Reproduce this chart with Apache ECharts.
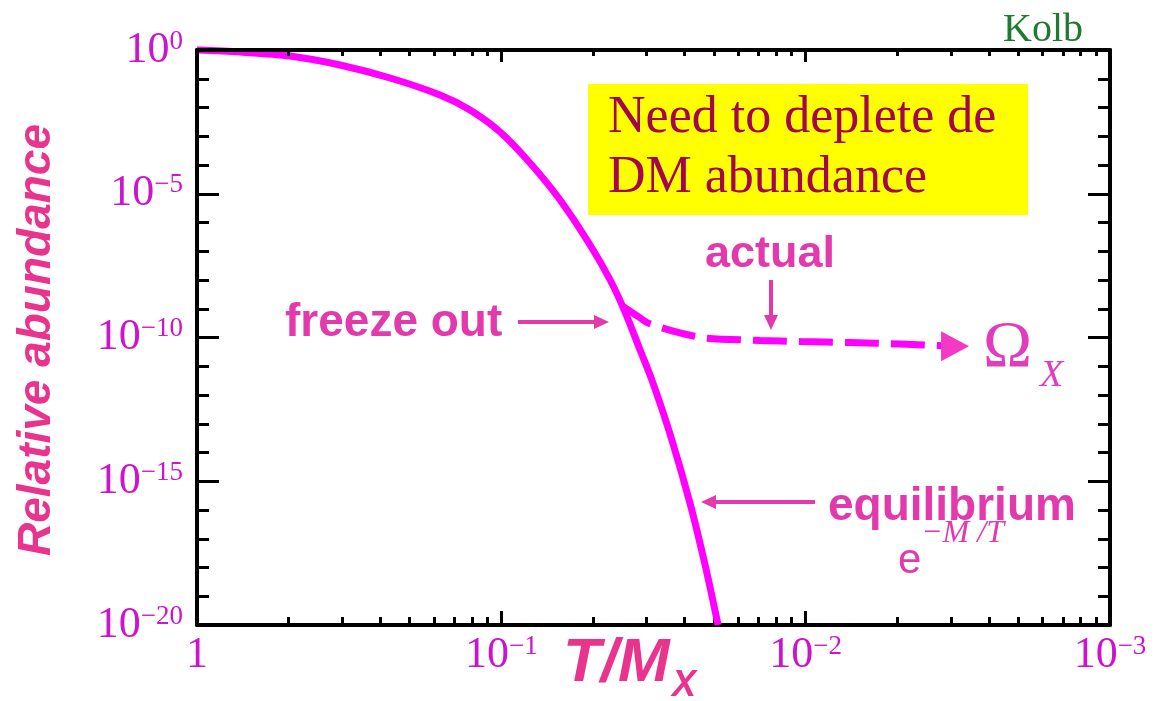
<!DOCTYPE html>
<html><head><meta charset="utf-8">
<script src="https://cdn.jsdelivr.net/npm/echarts@6/dist/echarts.min.js"></script>
<style>
html,body{margin:0;padding:0;background:#fff}
#wrap{position:relative;width:1157px;height:701px}
#c,#o{position:absolute;left:0;top:0;width:1157px;height:701px}
#o{pointer-events:none}
</style>
</head><body><div id="wrap"><div id="c"></div><div id="o"></div></div>
<script>
// ---- data (T/M_X and relative abundance) ----
const equilibriumTM = [1, 0.722, 0.495, 0.339, 0.232, 0.159, 0.1267, 0.101, 0.0805, 0.0641, 0.0511, 0.0439, 0.0392, 0.0350, 0.0320, 0.0279, 0.0240, 0.0214, 0.0194];
const equilibriumAbundance = [1, 0.852, 0.618, 0.301, 0.106, 0.0272, 8.18e-3, 1.41e-3, 1.17e-4, 6.06e-6, 1.65e-7, 1.0e-8, 7.7e-10, 3.67e-11, 3.3e-12, 4.4e-14, 1.75e-16, 1.22e-18, 1e-20];
const actualTM = [0.0401, 0.035, 0.033, 0.0259, 0.0211, 0.0141, 0.0104, 0.00714, 0.0049, 0.00323];
const actualAbundance = [1.26e-9, 4.8e-10, 3.2e-10, 1.44e-10, 9.5e-11, 7.9e-11, 7.2e-11, 6.7e-11, 5.9e-11, 5.0e-11];
// tick label exponents
const xDecades = [0, 1, 2, 3];          // T/M = 10^-k
const yExponents = [0, -5, -10, -15, -20];

// ---- build ----
const labelColor = '#cc14cc';
const annot = '#e23aad';
const curve = '#ff00ff';
const toPt = (t, a) => [-Math.log10(t), Math.log10(a)];
const eqData = equilibriumTM.map((t, i) => toPt(t, equilibriumAbundance[i]));
const actData = actualTM.map((t, i) => toPt(t, actualAbundance[i]));
const last = actData.pop();
actData.push({value: last, symbol: 'triangle', symbolSize: [30, 28], symbolRotate: -90, itemStyle: {color: '#f23ac4'}});

const xMinor = [];
for (let k = 0; k < 3; k++) for (let n = 2; n <= 9; n++) xMinor.push(k + Math.log10(n));

const blk = {color: '#000', width: 4};
const tk = {color: '#000', width: 3};
const xBase = {type: 'value', min: 0, max: 3, interval: 1, splitLine: {show: false}};
const yBase = {type: 'value', min: -20, max: 0, interval: 5, splitLine: {show: false}};
const gridPos = {left: 197, right: 47, top: 50, bottom: 76};

// main chart: bottom/left axes with labels and the two curves
const chart = echarts.init(document.getElementById('c'), null, {renderer: 'canvas'});
chart.setOption({
  animation: false,
  grid: gridPos,
  xAxis: [
    Object.assign({}, xBase, {position: 'bottom', axisLine: {onZero: false, lineStyle: blk},
      axisTick: {inside: true, length: 14, lineStyle: tk},
      axisLabel: {margin: 8, fontFamily: 'serif', fontSize: 44, color: labelColor, customValues: xDecades,
        rich: {n: {fontFamily: 'serif', fontSize: 44, color: labelColor}, s: {fontFamily: 'serif', fontSize: 27, color: labelColor, verticalAlign: 'top'}},
        formatter: v => v === 0 ? '{n|1}' : '{n|10}{s|\u2212' + Math.round(v) + '}'}}),
    Object.assign({}, xBase, {position: 'bottom', axisLine: {show: false, onZero: false},
      axisTick: {inside: true, length: 8, lineStyle: tk, customValues: xMinor}, axisLabel: {show: false}})
  ],
  yAxis: [
    Object.assign({}, yBase, {position: 'left', axisLine: {show: true, onZero: false, lineStyle: blk},
      axisTick: {inside: true, length: 22, lineStyle: tk},
      minorTick: {show: true, splitNumber: 5, length: 12, lineStyle: tk},
      axisLabel: {margin: 14, fontFamily: 'serif', fontSize: 44, color: labelColor,
        rich: {n: {fontFamily: 'serif', fontSize: 44}, s: {fontFamily: 'serif', fontSize: 27, verticalAlign: 'top'}},
        formatter: v => v === 0 ? '{n|10}{s|0}' : '{n|10}{s|\u2212' + Math.round(-v) + '}'}})
  ],
  series: [
    {type: 'line', xAxisIndex: 0, yAxisIndex: 0, data: eqData, smooth: 0.3, symbol: 'none', clip: false,
      lineStyle: {color: curve, width: 7}},
    {type: 'line', xAxisIndex: 0, yAxisIndex: 0, data: actData, smooth: 0.3, symbol: 'none', showSymbol: true, clip: false,
      lineStyle: {color: curve, width: 7, type: [34, 12], cap: 'butt'}, itemStyle: {color: '#f23ac4'}}
  ]
});

// make sure the tick-label text spans carry the serif font, then repaint
function fixLabelFonts(c) {
  const zr = c.getZr();
  zr.storage.getDisplayList(true).forEach(el => {
    const s = el.style;
    if (el.type === 'tspan' && s && typeof s.font === 'string' && /(^|\s)(44|27)px(\s|$)/.test(s.font)
        && !/(^|\s)serif/.test(s.font)) {
      el.setStyle('font', s.font.replace(/(\d+px).*$/, '$1 serif'));
    }
  });
  zr.refreshImmediately();
}
fixLabelFonts(chart);
chart.on('finished', () => fixLabelFonts(chart));

// overlay: top/right frame axes and the annotations
const over = echarts.init(document.getElementById('o'), null, {renderer: 'canvas'});
over.setOption({
  animation: false,
  backgroundColor: 'transparent',
  grid: gridPos,
  xAxis: [
    Object.assign({}, xBase, {position: 'top', axisLine: {onZero: false, lineStyle: blk},
      axisTick: {inside: true, length: 12, lineStyle: tk}, axisLabel: {show: false}}),
    Object.assign({}, xBase, {position: 'top', axisLine: {show: false, onZero: false},
      axisTick: {inside: true, length: 6, lineStyle: tk, customValues: xMinor}, axisLabel: {show: false}})
  ],
  yAxis: [
    Object.assign({}, yBase, {position: 'right', axisLine: {show: true, onZero: false, lineStyle: blk},
      axisTick: {inside: true, length: 22, lineStyle: tk},
      minorTick: {show: true, splitNumber: 5, length: 12, lineStyle: tk},
      axisLabel: {show: false}})
  ],
  series: [],
  graphic: [
    {type: 'rect', shape: {x: 588, y: 84, width: 440, height: 131}, style: {fill: '#ffff00'}, z: 1},
    {type: 'text', x: 608, y: 118, z: 2, style: {text: 'Need to deplete de', font: '52px "Liberation Serif"', fill: '#a3064f', align: 'left', verticalAlign: 'middle'}},
    {type: 'text', x: 608, y: 178, z: 2, style: {text: 'DM abundance', font: '52px "Liberation Serif"', fill: '#a3064f', align: 'left', verticalAlign: 'middle'}},
    {type: 'text', x: 1003, y: 30, style: {text: 'Kolb', font: '40px "Liberation Serif"', fill: '#1f7a30', align: 'left', verticalAlign: 'middle'}},
    {type: 'text', x: 37, y: 340, rotation: Math.PI / 2, style: {text: 'Relative abundance', font: 'italic bold 46px "Liberation Sans"', fill: '#e8348c', align: 'center', verticalAlign: 'middle'}},
    {type: 'text', x: 563, y: 664, style: {text: 'T/M', font: 'italic bold 62px "Liberation Sans"', fill: '#e8348c', align: 'left', verticalAlign: 'middle'}},
    {type: 'text', x: 672, y: 686, style: {text: 'X', font: 'italic bold 36px "Liberation Sans"', fill: '#e8348c', align: 'left', verticalAlign: 'middle'}},
    // freeze out
    {type: 'text', x: 285, y: 323, style: {text: 'freeze out', font: 'bold 46px "Liberation Sans"', fill: annot, align: 'left', verticalAlign: 'middle'}},
    {type: 'line', shape: {x1: 518, y1: 322, x2: 597, y2: 322}, style: {stroke: annot, lineWidth: 4}},
    {type: 'polygon', shape: {points: [[594, 315], [609, 322], [594, 329]]}, style: {fill: annot}},
    // actual
    {type: 'text', x: 705, y: 255, style: {text: 'actual', font: 'bold 45px "Liberation Sans"', fill: annot, align: 'left', verticalAlign: 'middle'}},
    {type: 'line', shape: {x1: 771, y1: 280, x2: 771, y2: 318}, style: {stroke: annot, lineWidth: 4}},
    {type: 'polygon', shape: {points: [[764, 315], [771, 330], [778, 315]]}, style: {fill: annot}},
    // equilibrium
    {type: 'text', x: 828, y: 507, style: {text: 'equilibrium', font: 'bold 46px "Liberation Sans"', fill: annot, align: 'left', verticalAlign: 'middle'}},
    {type: 'line', shape: {x1: 815, y1: 502, x2: 712, y2: 502}, style: {stroke: annot, lineWidth: 4}},
    {type: 'polygon', shape: {points: [[716, 495], [701, 502], [716, 509]]}, style: {fill: annot}},
    {type: 'text', x: 898, y: 561, style: {text: 'e', font: '42px "Liberation Sans"', fill: annot, align: 'left', verticalAlign: 'middle'}},
    {type: 'text', x: 921, y: 534, style: {text: '\u2212M /T', font: 'italic 32px "Liberation Serif"', fill: annot, align: 'left', verticalAlign: 'middle'}},
    // Omega_X
    {type: 'text', x: 983, y: 349, style: {text: '\u03A9', font: '66px "Liberation Serif"', fill: '#e03cbe', align: 'left', verticalAlign: 'middle'}},
    {type: 'text', x: 1040, y: 376, style: {text: 'X', font: 'italic 38px "Liberation Serif"', fill: '#e03cbe', align: 'left', verticalAlign: 'middle'}}
  ]
});
</script>
</body></html>
